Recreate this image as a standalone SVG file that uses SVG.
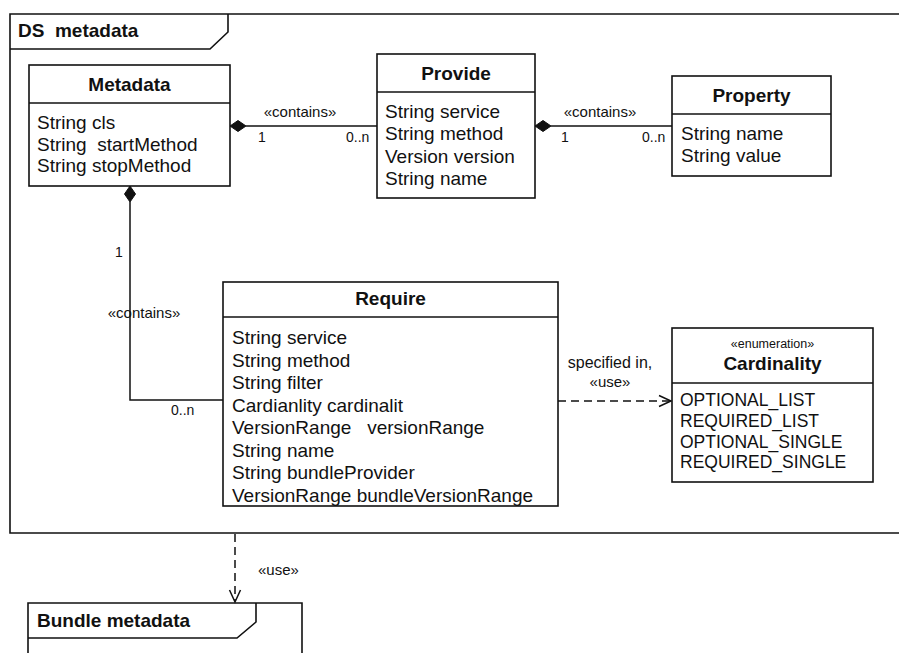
<svg xmlns="http://www.w3.org/2000/svg" width="899" height="653" viewBox="0 0 899 653">
  <style>
    .frame { fill: none; stroke: #111; stroke-width: 1.6; }
    .box { fill: #fff; stroke: #111; stroke-width: 1.6; }
    .sep { stroke: #111; stroke-width: 1.6; }
    .line { fill: none; stroke: #111; stroke-width: 1.5; }
    .dash { fill: none; stroke: #111; stroke-width: 1.5; stroke-dasharray: 8 5; }
    .head { fill: none; stroke: #111; stroke-width: 1.5; }
    .diamond { fill: #111; stroke: #111; stroke-width: 1; }
    text { font-family: "Liberation Sans", Arial, Helvetica, sans-serif; fill: #111; }
    .title { font-size: 19px; font-weight: bold; text-anchor: middle; }
    .ftitle { font-size: 19px; font-weight: bold; white-space: pre; }
    .attr { font-size: 19px; white-space: pre; }
    .enum { font-size: 17.5px; }
    .lbl { font-size: 15px; }
    .mult { font-size: 14px; }
    .stereo { font-size: 12.5px; text-anchor: middle; }
  </style>

  <rect width="899" height="653" fill="#fff"/>

  <!-- package frame: DS metadata -->
  <g id="frame-ds-metadata">
    <path class="frame" d="M899,14 H10 V533 H899"/>
    <path class="frame" d="M10,49 H210 L228,32 V14"/>
    <text class="ftitle" x="18" y="37">DS  metadata</text>
  </g>

  <!-- package frame: Bundle metadata -->
  <g id="frame-bundle-metadata">
    <path class="frame" d="M28,660 V603 H302 V660"/>
    <path class="frame" d="M28,638 H237 L256,622 V603"/>
    <text class="ftitle" x="37" y="627">Bundle metadata</text>
  </g>

  <!-- connectors -->
  <g id="connectors">
    <!-- Metadata -> Provide -->
    <line class="line" x1="246" y1="126" x2="377" y2="126"/>
    <polygon class="diamond" points="230,126 238,120.5 246,126 238,131.5"/>
    <text class="lbl" x="300" y="117" text-anchor="middle">«contains»</text>
    <text class="mult" x="258" y="142">1</text>
    <text class="mult" x="346" y="142">0..n</text>

    <!-- Provide -> Property -->
    <line class="line" x1="551" y1="126" x2="672" y2="126"/>
    <polygon class="diamond" points="535,126 543,120.5 551,126 543,131.5"/>
    <text class="lbl" x="600" y="117" text-anchor="middle">«contains»</text>
    <text class="mult" x="561" y="142">1</text>
    <text class="mult" x="642" y="142">0..n</text>

    <!-- Metadata -> Require -->
    <path class="line" d="M130,202 V400 H223"/>
    <polygon class="diamond" points="130,186 135.5,194 130,202 124.5,194"/>
    <text class="mult" x="115" y="257">1</text>
    <text class="lbl" x="144" y="318" text-anchor="middle">«contains»</text>
    <text class="mult" x="171" y="415">0..n</text>

    <!-- Require uses Cardinality -->
    <line class="dash" x1="558" y1="401" x2="670" y2="401"/>
    <path class="head" d="M659,395.5 L671,401 L659,406.5"/>
    <text x="610" y="368" text-anchor="middle" font-size="16">specified in,</text>
    <text class="lbl" x="610" y="387" text-anchor="middle">«use»</text>

    <!-- DS metadata uses Bundle metadata -->
    <line class="dash" x1="235" y1="534" x2="235" y2="601" stroke-dasharray="10 6"/>
    <path class="head" d="M229.5,590 L235,602 L240.5,590"/>
    <text class="lbl" x="258" y="575">«use»</text>
  </g>

  <!-- class Metadata -->
  <g id="node-metadata">
    <rect class="box" x="29" y="65" width="201" height="121"/>
    <line class="sep" x1="29" y1="103" x2="230" y2="103"/>
    <text class="title" x="129.5" y="91">Metadata</text>
    <text class="attr" x="37" y="129">String cls</text>
    <text class="attr" x="37" y="151">String  startMethod</text>
    <text class="attr" x="37" y="172">String stopMethod</text>
  </g>

  <!-- class Provide -->
  <g id="node-provide">
    <rect class="box" x="377" y="54" width="158" height="144"/>
    <line class="sep" x1="377" y1="92" x2="535" y2="92"/>
    <text class="title" x="456" y="80">Provide</text>
    <text class="attr" x="385" y="118">String service</text>
    <text class="attr" x="385" y="140">String method</text>
    <text class="attr" x="385" y="163">Version version</text>
    <text class="attr" x="385" y="185">String name</text>
  </g>

  <!-- class Property -->
  <g id="node-property">
    <rect class="box" x="672" y="76" width="159" height="100"/>
    <line class="sep" x1="672" y1="114" x2="831" y2="114"/>
    <text class="title" x="751.5" y="102">Property</text>
    <text class="attr" x="681" y="140">String name</text>
    <text class="attr" x="681" y="162">String value</text>
  </g>

  <!-- class Require -->
  <g id="node-require">
    <rect class="box" x="223" y="282" width="335" height="224"/>
    <line class="sep" x1="223" y1="317" x2="558" y2="317"/>
    <text class="title" x="390.5" y="305">Require</text>
    <text class="attr" x="232" y="344">String service</text>
    <text class="attr" x="232" y="366.5">String method</text>
    <text class="attr" x="232" y="389">String filter</text>
    <text class="attr" x="232" y="411.5">Cardianlity cardinalit</text>
    <text class="attr" x="232" y="434">VersionRange   versionRange</text>
    <text class="attr" x="232" y="456.5">String name</text>
    <text class="attr" x="232" y="479">String bundleProvider</text>
    <text class="attr" x="232" y="501.5">VersionRange bundleVersionRange</text>
  </g>

  <!-- enumeration Cardinality -->
  <g id="node-cardinality">
    <rect class="box" x="672" y="328" width="201" height="154"/>
    <line class="sep" x1="672" y1="383" x2="873" y2="383"/>
    <text class="stereo" x="772.5" y="348">«enumeration»</text>
    <text class="title" x="772.5" y="370" font-size="16">Cardinality</text>
    <text class="enum" x="680" y="406">OPTIONAL_LIST</text>
    <text class="enum" x="680" y="427">REQUIRED_LIST</text>
    <text class="enum" x="680" y="448">OPTIONAL_SINGLE</text>
    <text class="enum" x="680" y="468">REQUIRED_SINGLE</text>
  </g>
</svg>
